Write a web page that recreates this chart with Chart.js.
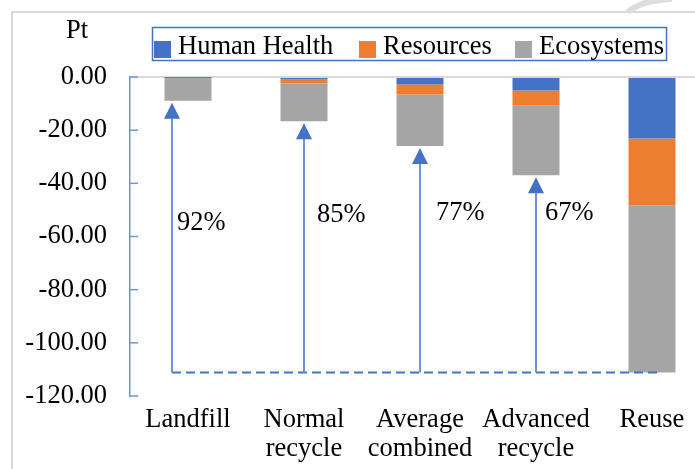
<!DOCTYPE html>
<html>
<head>
<meta charset="utf-8">
<script src="https://cdn.jsdelivr.net/npm/chart.js@4/dist/chart.umd.min.js"></script>
<style>
  html, body { margin: 0; padding: 0; background: #fff; overflow: hidden; }
  #wrap { width: 710px; height: 469px; }
</style>
</head>
<body>
<div id="wrap"><canvas id="canvas" width="710" height="469"></canvas></div>
<script>
// chart values (Pt)
var categories = [['Landfill'], ['Normal', 'recycle'], ['Average', 'combined'], ['Advanced', 'recycle'], ['Reuse']];
var humanHealth = [-0.1, -0.8, -2.8, -5.1, -23.1];
var resources = [-0.2, -1.6, -3.8, -5.6, -25.1];
var ecosystems = [-8.6, -14.2, -19.4, -26.3, -63.0];
var percentLabels = ['92%', '85%', '77%', '67%'];
var yTicks = [0, -20, -40, -60, -80, -100, -120];

var serif = '"Liberation Serif", "Times New Roman", serif';
var fontPx = 26.5;
var blue = '#4472c4', orange = '#ed7d31', grey = '#a5a5a5';

// frame, "Pt" label, legend box
var decor = {
    id: 'decor',
    beforeDraw: function (chart) {
        var ctx = chart.ctx;
        ctx.save();
        ctx.fillStyle = '#fff';
        ctx.fillRect(0, 0, chart.width, chart.height);
        ctx.strokeStyle = '#d9d9d9';
        ctx.lineWidth = 2;
        ctx.beginPath();
        ctx.moveTo(12, 469);
        ctx.lineTo(12, 12);
        ctx.lineTo(chart.width, 12);
        ctx.stroke();
        // faint mark top right
        ctx.strokeStyle = '#dedede';
        ctx.lineWidth = 6;
        ctx.beginPath();
        ctx.moveTo(628, 12);
        ctx.quadraticCurveTo(642, 0, 672, -1);
        ctx.stroke();
        ctx.restore();
    },
    afterDraw: function (chart) {
        var ctx = chart.ctx;
        ctx.save();
        ctx.font = fontPx + 'px ' + serif;
        ctx.fillStyle = '#000';
        ctx.textBaseline = 'middle';
        ctx.textAlign = 'center';
        ctx.fillText('Pt', 77, 31);

        // legend
        ctx.strokeStyle = blue;
        ctx.lineWidth = 1.5;
        ctx.strokeRect(152.5, 27.5, 514, 33);
        var items = chart.data.datasets;
        var xs = [154, 359, 515];
        ctx.textAlign = 'left';
        items.forEach(function (ds, i) {
            ctx.fillStyle = ds.backgroundColor;
            ctx.fillRect(xs[i], 41, 17, 17);
            ctx.fillStyle = '#000';
            ctx.fillText(ds.label, xs[i] + 24, 47);
        });

        // inside ticks on the y axis
        var y = chart.scales.y;
        ctx.strokeStyle = '#6f94d6';
        ctx.lineWidth = 1.5;
        y.ticks.forEach(function (t) {
            var py = y.getPixelForValue(t.value);
            ctx.beginPath();
            ctx.moveTo(y.right, py);
            ctx.lineTo(y.right + 8, py);
            ctx.stroke();
        });
        ctx.restore();
    }
};

// arrows from the reuse level up to each bar
var arrows = {
    id: 'arrows',
    afterDatasetsDraw: function (chart) {
        var ctx = chart.ctx, x = chart.scales.x, y = chart.scales.y;
        var last = categories.length - 1;
        var base = humanHealth[last] + resources[last] + ecosystems[last];
        var yBase = y.getPixelForValue(base);
        var shift = [-16, 0, 0, 0];
        var labelDx = [5, 13, 16, 9];
        var labelY = [223, 215, 213, 213];
        ctx.save();
        ctx.strokeStyle = blue;
        ctx.lineWidth = 2;
        ctx.setLineDash([9, 5]);
        ctx.beginPath();
        ctx.moveTo(x.getPixelForValue(0) + shift[0], yBase);
        ctx.lineTo(x.getPixelForValue(last) + 5, yBase);
        ctx.stroke();
        ctx.setLineDash([]);
        for (var i = 0; i < percentLabels.length; i++) {
            var total = humanHealth[i] + resources[i] + ecosystems[i];
            var px = x.getPixelForValue(i) + shift[i];
            var tip = y.getPixelForValue(total) + 2;
            ctx.strokeStyle = '#6f94d6';
            ctx.lineWidth = 2;
            ctx.beginPath();
            ctx.moveTo(px, yBase);
            ctx.lineTo(px, tip + 14);
            ctx.stroke();
            ctx.fillStyle = blue;
            ctx.beginPath();
            ctx.moveTo(px, tip);
            ctx.lineTo(px - 8, tip + 16);
            ctx.lineTo(px + 8, tip + 16);
            ctx.closePath();
            ctx.fill();
            ctx.fillStyle = '#000';
            ctx.font = fontPx + 'px ' + serif;
            ctx.textAlign = 'left';
            ctx.textBaseline = 'middle';
            ctx.fillText(percentLabels[i], px + labelDx[i], labelY[i]);
        }
        ctx.restore();
    }
};

new Chart(document.getElementById('canvas'), {
    type: 'bar',
    data: {
        labels: categories,
        datasets: [
            { label: 'Human Health', data: humanHealth, backgroundColor: blue },
            { label: 'Resources', data: resources, backgroundColor: orange },
            { label: 'Ecosystems', data: ecosystems, backgroundColor: grey }
        ]
    },
    plugins: [decor, arrows],
    options: {
        responsive: false,
        animation: false,
        layout: { padding: { top: 77, left: 0, right: 0, bottom: 0 } },
        datasets: { bar: { barPercentage: 0.405, categoryPercentage: 1 } },
        plugins: { legend: { display: false }, tooltip: { enabled: false } },
        scales: {
            x: {
                stacked: true,
                grid: { display: false },
                border: { display: false },
                ticks: { color: '#000', font: { family: serif, size: fontPx, lineHeight: 1.08 }, padding: 2, maxRotation: 0 },
                afterFit: function (s) { s.height = 73; }
            },
            y: {
                stacked: true,
                min: -120,
                max: 0,
                afterBuildTicks: function (s) {
                    s.ticks = yTicks.map(function (v) { return { value: v }; });
                },
                border: { display: true, color: '#6f94d6', width: 1.5 },
                grid: {
                    drawTicks: false,
                    color: function (c) { return c.tick && c.tick.value === 0 ? '#d9d9d9' : 'transparent'; },
                    lineWidth: 2
                },
                ticks: {
                    color: '#000',
                    font: { family: serif, size: fontPx },
                    padding: 23,
                    callback: function (v) { return Number(v).toFixed(2); }
                },
                afterFit: function (s) { s.width = 130; }
            }
        }
    }
});
</script>
</body>
</html>
